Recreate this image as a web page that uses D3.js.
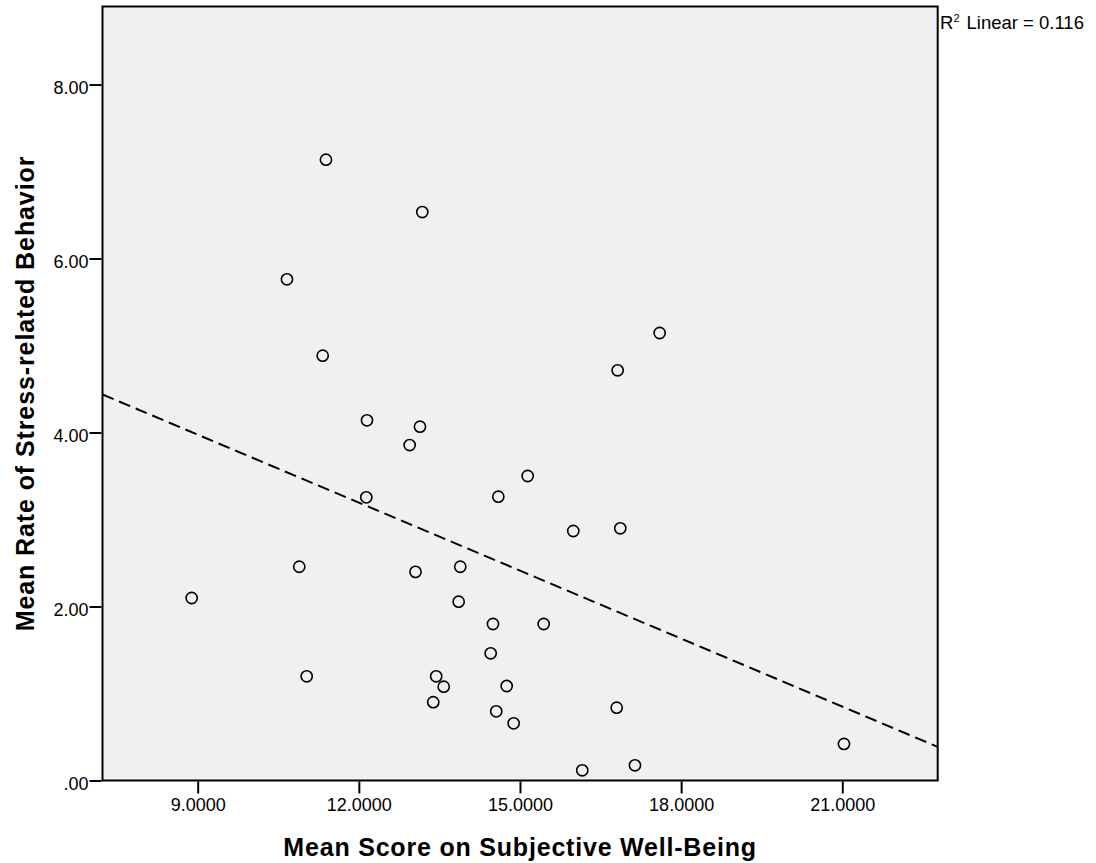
<!DOCTYPE html>
<html>
<head>
<meta charset="utf-8">
<script src="https://cdn.jsdelivr.net/npm/d3@7"></script>
<style>
  body { margin: 0; background: #fff; }
  svg { display: block; font-family: Arial, "Liberation Sans", sans-serif; }
</style>
</head>
<body>
<svg id="chart" width="1096" height="863"></svg>
<script>
// values
const wellBeing = [11.388, 13.181, 10.662, 11.327, 12.152, 13.138, 12.946, 10.891, 13.055, 8.888,
  11.029, 12.139, 13.44, 13.58, 13.385, 17.6, 16.818, 15.143, 14.596, 15.992,
  16.867, 13.888, 13.858, 14.497, 15.441, 14.454, 14.752, 14.558, 14.882, 16.8,
  16.159, 17.14, 21.031]
const stressRate = [7.136, 6.534, 5.761, 4.883, 4.14, 4.067, 3.856, 2.457, 2.398, 2.098,
  1.198, 3.255, 1.198, 1.078, 0.9, 5.144, 4.715, 3.5, 3.262, 2.868,
  2.899, 2.457, 2.055, 1.799, 1.799, 1.462, 1.086, 0.795, 0.657, 0.837,
  0.117, 0.175, 0.42]
const xTicks = [9, 12, 15, 18, 21]
const yTicks = [0, 2, 4, 6, 8]
const xDomain = [7.228, 22.776]
const yDomain = [0, 8.897]
// fit line as drawn in the picture
const fitIntercept = 6.32
const fitSlope = -0.2605
const rSquared = "0.116"

const width = 1096
const height = 863
const plot = { left: 102.5, right: 937.7, top: 6.5, bottom: 780.5 }

const svg = d3.select("#chart")

const x = d3.scaleLinear().domain(xDomain).range([plot.left, plot.right])
const y = d3.scaleLinear().domain(yDomain).range([plot.bottom, plot.top])

// background panel
svg.append("rect")
  .attr("x", plot.left)
  .attr("y", plot.top)
  .attr("width", plot.right - plot.left)
  .attr("height", plot.bottom - plot.top)
  .attr("fill", "#f0f0f0")

svg.append("clipPath")
  .attr("id", "plotClip")
  .append("rect")
  .attr("x", plot.left)
  .attr("y", plot.top)
  .attr("width", plot.right - plot.left)
  .attr("height", plot.bottom - plot.top)

// axes
const xAxis = svg.append("g")
  .attr("transform", `translate(0,${plot.bottom + 1})`)
  .call(d3.axisBottom(x).tickValues(xTicks).tickSize(12).tickPadding(5).tickFormat(d3.format(".4f")))
const yAxis = svg.append("g")
  .attr("transform", `translate(${plot.left - 1},0)`)
  .call(d3.axisLeft(y).tickValues(yTicks).tickSize(12).tickPadding(1)
    .tickFormat(d => d3.format(".2f")(d).replace(/^0\./, ".")))

for (const ax of [xAxis, yAxis]) {
  ax.select(".domain").remove()
  ax.selectAll("line").attr("stroke", "#000").attr("stroke-width", 2)
  ax.selectAll("text")
    .attr("fill", "#000")
    .style("font-size", "18px")
    .style("font-family", "Arial, 'Liberation Sans', sans-serif")
}
xAxis.selectAll("text").attr("dy", "0.71em")
yAxis.selectAll("text").attr("dy", "0.52em")

// regression line
svg.append("line")
  .attr("clip-path", "url(#plotClip)")
  .attr("x1", x(xDomain[0]))
  .attr("y1", y(fitIntercept + fitSlope * xDomain[0]))
  .attr("x2", x(xDomain[1]))
  .attr("y2", y(fitIntercept + fitSlope * xDomain[1]))
  .attr("stroke", "#000")
  .attr("stroke-width", 2)
  .attr("stroke-dasharray", "12,6")

// points
svg.append("g")
  .selectAll("circle")
  .data(wellBeing.map((v, i) => [v, stressRate[i]]))
  .join("circle")
  .attr("cx", d => x(d[0]))
  .attr("cy", d => y(d[1]))
  .attr("r", 5.6)
  .attr("fill", "none")
  .attr("stroke", "#000")
  .attr("stroke-width", 1.6)

// frame
svg.append("rect")
  .attr("x", plot.left)
  .attr("y", plot.top)
  .attr("width", plot.right - plot.left)
  .attr("height", plot.bottom - plot.top)
  .attr("fill", "none")
  .attr("stroke", "#000")
  .attr("stroke-width", 2)

// axis titles
svg.append("text")
  .attr("x", (plot.left + plot.right) / 2)
  .attr("y", 856)
  .attr("text-anchor", "middle")
  .style("font-size", "25px")
  .style("font-weight", "bold")
  .style("letter-spacing", "0.8px")
  .text("Mean Score on Subjective Well-Being")

svg.append("text")
  .attr("transform", `translate(34,${(plot.top + plot.bottom) / 2}) rotate(-90)`)
  .attr("text-anchor", "middle")
  .style("font-size", "25px")
  .style("font-weight", "bold")
  .style("letter-spacing", "0.9px")
  .text("Mean Rate of Stress-related Behavior")

// R squared note
const note = svg.append("text")
  .attr("x", 940)
  .attr("y", 28.5)
  .style("font-size", "18.5px")
note.append("tspan").text("R")
note.append("tspan").attr("dy", -7).style("font-size", "11px").text("2")
note.append("tspan").attr("dy", 7).attr("dx", 7).text("Linear = " + rSquared)
</script>
</body>
</html>
